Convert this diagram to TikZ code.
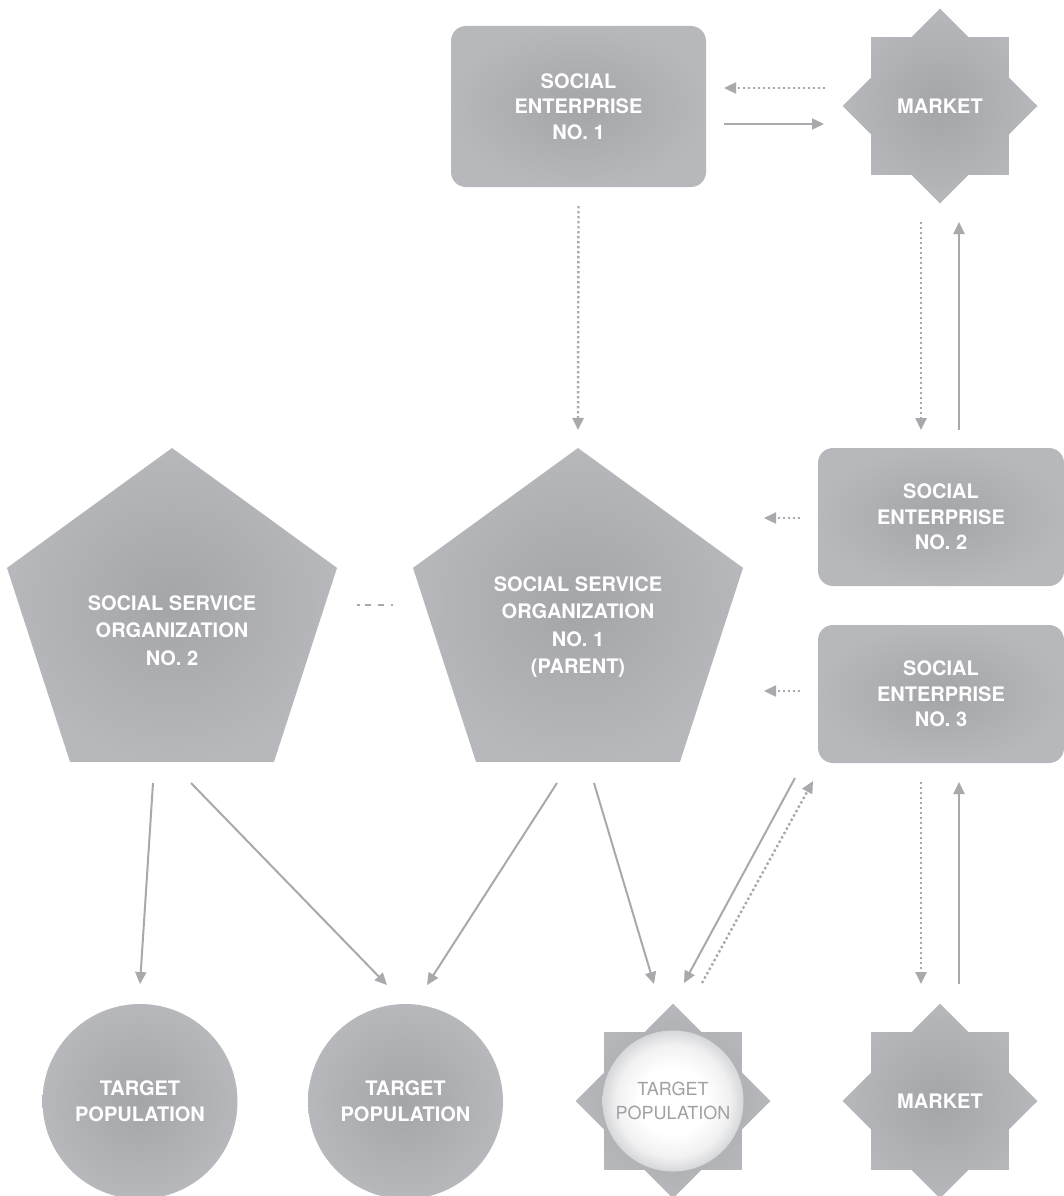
\documentclass[tikz,border=0pt]{standalone}
\usepackage{fontspec}
\setmainfont{TeX Gyre Heros}
\usetikzlibrary{shapes.geometric,arrows.meta}

\definecolor{shapein}{HTML}{A4A5A8}
\definecolor{shapeout}{HTML}{B7B8BB}
\definecolor{linkgray}{HTML}{A8A9AC}
\definecolor{discout}{HTML}{D6D7D9}
\definecolor{disctext}{HTML}{A0A1A4}

% white disc that only greys towards its rim
\pgfdeclareradialshading{rimglow}{\pgfpoint{0bp}{0bp}}{%
  color(0bp)=(white); color(12bp)=(white); color(20bp)=(white!65!discout);
  color(25bp)=(discout); color(50bp)=(discout)}

\tikzset{
  body/.style={shade, inner color=shapein, outer color=shapeout,
    text=white, align=center, inner sep=0pt, outer sep=0pt,
    font=\bfseries\fontsize{20}{25.5}\selectfont},
  enterprise/.style={body, rectangle, rounded corners=15pt,
    minimum width=255pt, minimum height=161pt},
  subenterprise/.style={enterprise, minimum width=246pt, minimum height=138pt},
  penta/.style={body, regular polygon, regular polygon sides=5,
    minimum size=347pt},
  pentatext/.style={text=white, align=center, inner sep=0pt,
    font=\bfseries\fontsize{20}{27.5}\selectfont},
  bazaar/.style={body, star, star points=8, star point ratio=1.31,
    minimum size=195pt},
  populace/.style={body, circle, minimum size=195pt,
    font=\bfseries\fontsize{20}{26}\selectfont},
  disc/.style={circle, minimum size=141pt, inner sep=0pt, outer sep=0pt,
    shading=rimglow, text=disctext,
    align=center, font=\fontsize{18}{24}\selectfont},
  solidlink/.style={draw=linkgray, line width=2pt,
    -{Triangle[length=12pt,width=11pt]}},
  dotlink/.style={solidlink, line width=2.4pt, dash pattern=on 2.4pt off 2.6pt},
  separator/.style={draw=linkgray, line width=2pt,
    dash pattern=on 3pt off 5pt on 6pt off 7pt on 6pt off 7pt on 2pt off 20pt}
}

\begin{document}
\begin{tikzpicture}[x=1pt,y=-1pt]
  \useasboundingbox (0,0) rectangle (1064,1196);

  % top row
  \node[enterprise] (se1) at (578.5,106.5) {SOCIAL\\ENTERPRISE\\NO. 1};
  \node[bazaar] (mkt1) at (940,106) {MARKET};

  % social service organizations
  \node[penta, label={[pentatext, yshift=-9pt]center:{SOCIAL SERVICE\\ORGANIZATION\\NO. 2}}]
    (sso2) at (172,621.5) {};
  \node[penta, label={[pentatext, yshift=-5.5pt]center:{SOCIAL SERVICE\\ORGANIZATION\\NO. 1\\(PARENT)}}]
    (sso1) at (578,621.5) {};

  % further enterprises
  \node[subenterprise] (se2) at (941,517) {SOCIAL\\ENTERPRISE\\NO. 2};
  \node[subenterprise] (se3) at (941,694) {SOCIAL\\ENTERPRISE\\NO. 3};

  % bottom row
  \node[populace] (tp1) at (140,1101.5) {TARGET\\POPULATION};
  \node[populace] (tp2) at (405.5,1101.5) {TARGET\\POPULATION};
  \node[bazaar] (tp3star) at (673,1101) {};
  \node[disc] (tp3) at (673,1101) {TARGET\\POPULATION};
  \node[bazaar] (mkt2) at (940,1101) {MARKET};

  % enterprise 1 <-> market
  \draw[dotlink] ([shift={(-115,-18)}]mkt1.center) -- ([shift={(18,-18.5)}]se1.east);
  \draw[solidlink] ([shift={(18,17.5)}]se1.east) -- ([shift={(-116,18)}]mkt1.center);

  % enterprise 1 -> parent organization
  \draw[dotlink] ([shift={(0,19)}]se1.south) -- ([shift={(0,-18)}]sso1.north);

  % market <-> enterprise 2
  \draw[dotlink] ([shift={(-19,116)}]mkt1.center) -- ([shift={(-20,-18)}]se2.north);
  \draw[solidlink] ([shift={(18,-18)}]se2.north) -- ([shift={(19,116)}]mkt1.center);

  % enterprises 2 and 3 -> parent organization
  \draw[dotlink] ([shift={(-18,1)}]se2.west) -- ([shift={(186,-103.5)}]sso1.center);
  \draw[dotlink] ([shift={(-18,-3)}]se3.west) -- ([shift={(186,69.5)}]sso1.center);

  % link between organizations
  \draw[separator] ([shift={(185,-16.5)}]sso2.center) -- ([shift={(-185,-16.5)}]sso1.center);

  % organizations -> target populations
  \draw[solidlink] ([shift={(-19,161.5)}]sso2.center) -- ([shift={(0,-20)}]tp1.north);
  \draw[solidlink] ([shift={(19,161.5)}]sso2.center) -- ([shift={(-18.5,-19)}]tp2.north);
  \draw[solidlink] ([shift={(-21,161.5)}]sso1.center) -- ([shift={(21.5,-19)}]tp2.north);
  \draw[solidlink] ([shift={(16,161.5)}]sso1.center) -- ([shift={(-19,-117)}]tp3.center);

  % enterprise 3 <-> target population
  \draw[solidlink] ([shift={(-146,15)}]se3.south) -- ([shift={(11,-118)}]tp3.center);
  \draw[dotlink] ([shift={(29,-118)}]tp3.center) -- ([shift={(-128,18)}]se3.south);

  % enterprise 3 <-> market
  \draw[dotlink] ([shift={(-20,19)}]se3.south) -- ([shift={(-19,-117)}]mkt2.center);
  \draw[solidlink] ([shift={(19,-117)}]mkt2.center) -- ([shift={(18,19)}]se3.south);
\end{tikzpicture}
\end{document}
